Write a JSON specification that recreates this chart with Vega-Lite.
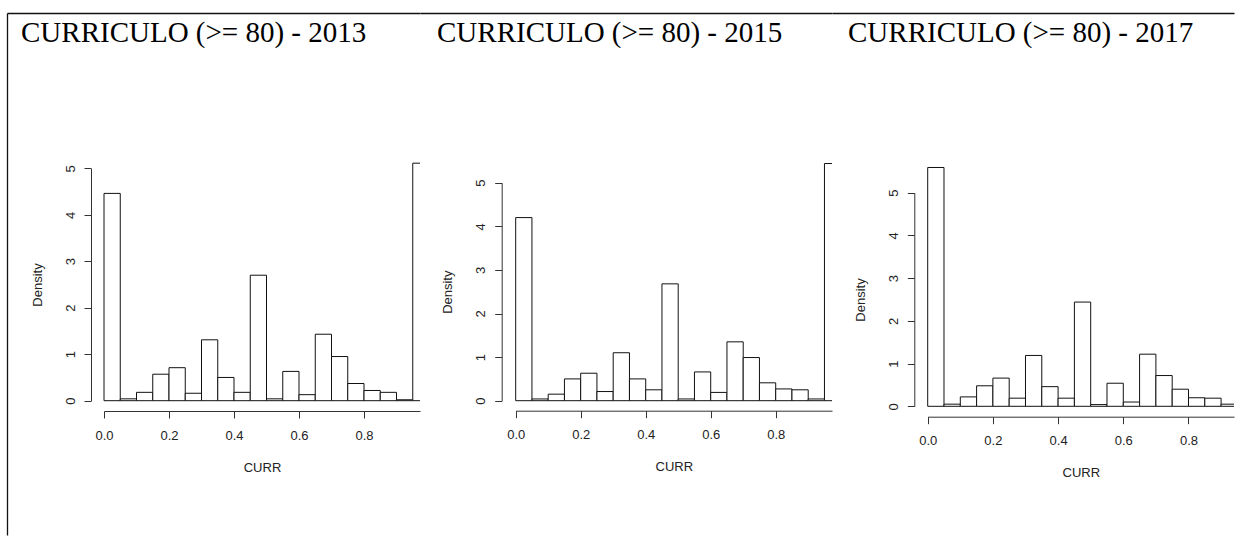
{
  "$schema": "https://vega.github.io/schema/vega-lite/v6.json",
  "background": "white",
  "padding": {"left": 7, "top": 13, "right": 1, "bottom": 1},
  "autosize": {"type": "pad"},
  "bounds": "flush",
  "spacing": 0,
  "config": {
    "view": {"stroke": null},
    "axis": {
      "labelFont": "Liberation Sans",
      "labelFontSize": 13,
      "labelColor": "#222",
      "titleFont": "Liberation Sans",
      "titleFontSize": 13,
      "titleFontWeight": "normal",
      "titleColor": "#222",
      "domainColor": "#333",
      "tickColor": "#333",
      "tickSize": 7,
      "grid": false,
      "labelFlush": false,
      "labelOverlap": false
    },
    "axisX": {"labelPadding": 11, "titlePadding": 19},
    "axisY": {"labelAngle": 270, "labelAlign": "center", "labelBaseline": "alphabetic", "labelPadding": 10, "titlePadding": 20},
    "title": {"anchor": "start", "frame": "group", "offset": 0, "baseline": "alphabetic", "font": "Liberation Serif", "fontSize": 29, "fontWeight": "normal", "color": "black", "dy": 39}
  },
  "datasets": {
    "hist": [
      {"year": 2013, "bin_start": 0.00, "bin_end": 0.05, "density": 4.46},
      {"year": 2013, "bin_start": 0.05, "bin_end": 0.10, "density": 0.04},
      {"year": 2013, "bin_start": 0.10, "bin_end": 0.15, "density": 0.18},
      {"year": 2013, "bin_start": 0.15, "bin_end": 0.20, "density": 0.57},
      {"year": 2013, "bin_start": 0.20, "bin_end": 0.25, "density": 0.71},
      {"year": 2013, "bin_start": 0.25, "bin_end": 0.30, "density": 0.16},
      {"year": 2013, "bin_start": 0.30, "bin_end": 0.35, "density": 1.31},
      {"year": 2013, "bin_start": 0.35, "bin_end": 0.40, "density": 0.50},
      {"year": 2013, "bin_start": 0.40, "bin_end": 0.45, "density": 0.18},
      {"year": 2013, "bin_start": 0.45, "bin_end": 0.50, "density": 2.70},
      {"year": 2013, "bin_start": 0.50, "bin_end": 0.55, "density": 0.04},
      {"year": 2013, "bin_start": 0.55, "bin_end": 0.60, "density": 0.63},
      {"year": 2013, "bin_start": 0.60, "bin_end": 0.65, "density": 0.13},
      {"year": 2013, "bin_start": 0.65, "bin_end": 0.70, "density": 1.43},
      {"year": 2013, "bin_start": 0.70, "bin_end": 0.75, "density": 0.95},
      {"year": 2013, "bin_start": 0.75, "bin_end": 0.80, "density": 0.37},
      {"year": 2013, "bin_start": 0.80, "bin_end": 0.85, "density": 0.22},
      {"year": 2013, "bin_start": 0.85, "bin_end": 0.90, "density": 0.18},
      {"year": 2013, "bin_start": 0.90, "bin_end": 0.95, "density": 0.02},
      {"year": 2013, "bin_start": 0.95, "bin_end": 1.00, "density": 5.11},
      {"year": 2015, "bin_start": 0.00, "bin_end": 0.05, "density": 4.20},
      {"year": 2015, "bin_start": 0.05, "bin_end": 0.10, "density": 0.04},
      {"year": 2015, "bin_start": 0.10, "bin_end": 0.15, "density": 0.15},
      {"year": 2015, "bin_start": 0.15, "bin_end": 0.20, "density": 0.50},
      {"year": 2015, "bin_start": 0.20, "bin_end": 0.25, "density": 0.63},
      {"year": 2015, "bin_start": 0.25, "bin_end": 0.30, "density": 0.21},
      {"year": 2015, "bin_start": 0.30, "bin_end": 0.35, "density": 1.10},
      {"year": 2015, "bin_start": 0.35, "bin_end": 0.40, "density": 0.50},
      {"year": 2015, "bin_start": 0.40, "bin_end": 0.45, "density": 0.25},
      {"year": 2015, "bin_start": 0.45, "bin_end": 0.50, "density": 2.68},
      {"year": 2015, "bin_start": 0.50, "bin_end": 0.55, "density": 0.04},
      {"year": 2015, "bin_start": 0.55, "bin_end": 0.60, "density": 0.66},
      {"year": 2015, "bin_start": 0.60, "bin_end": 0.65, "density": 0.19},
      {"year": 2015, "bin_start": 0.65, "bin_end": 0.70, "density": 1.35},
      {"year": 2015, "bin_start": 0.70, "bin_end": 0.75, "density": 0.99},
      {"year": 2015, "bin_start": 0.75, "bin_end": 0.80, "density": 0.41},
      {"year": 2015, "bin_start": 0.80, "bin_end": 0.85, "density": 0.27},
      {"year": 2015, "bin_start": 0.85, "bin_end": 0.90, "density": 0.25},
      {"year": 2015, "bin_start": 0.90, "bin_end": 0.95, "density": 0.04},
      {"year": 2015, "bin_start": 0.95, "bin_end": 1.00, "density": 5.44},
      {"year": 2017, "bin_start": 0.00, "bin_end": 0.05, "density": 5.59},
      {"year": 2017, "bin_start": 0.05, "bin_end": 0.10, "density": 0.05},
      {"year": 2017, "bin_start": 0.10, "bin_end": 0.15, "density": 0.22},
      {"year": 2017, "bin_start": 0.15, "bin_end": 0.20, "density": 0.48},
      {"year": 2017, "bin_start": 0.20, "bin_end": 0.25, "density": 0.66},
      {"year": 2017, "bin_start": 0.25, "bin_end": 0.30, "density": 0.19},
      {"year": 2017, "bin_start": 0.30, "bin_end": 0.35, "density": 1.19},
      {"year": 2017, "bin_start": 0.35, "bin_end": 0.40, "density": 0.46},
      {"year": 2017, "bin_start": 0.40, "bin_end": 0.45, "density": 0.19},
      {"year": 2017, "bin_start": 0.45, "bin_end": 0.50, "density": 2.44},
      {"year": 2017, "bin_start": 0.50, "bin_end": 0.55, "density": 0.04},
      {"year": 2017, "bin_start": 0.55, "bin_end": 0.60, "density": 0.54},
      {"year": 2017, "bin_start": 0.60, "bin_end": 0.65, "density": 0.10},
      {"year": 2017, "bin_start": 0.65, "bin_end": 0.70, "density": 1.22},
      {"year": 2017, "bin_start": 0.70, "bin_end": 0.75, "density": 0.72},
      {"year": 2017, "bin_start": 0.75, "bin_end": 0.80, "density": 0.40},
      {"year": 2017, "bin_start": 0.80, "bin_end": 0.85, "density": 0.20},
      {"year": 2017, "bin_start": 0.85, "bin_end": 0.90, "density": 0.19},
      {"year": 2017, "bin_start": 0.90, "bin_end": 0.95, "density": 0.05}
    ]
  },
  "hconcat": [
    {
      "width": 413,
      "height": 522,
      "title": {"text": "CURRICULO (>= 80) - 2013", "dx": 14},
      "data": {"name": "hist"},
      "transform": [{"filter": "datum.year == 2013"}],
      "layer": [
        {
          "mark": {"type": "rect", "fill": "white", "stroke": "#111", "strokeWidth": 1, "clip": true},
          "encoding": {
            "x": {"field": "bin_start", "type": "quantitative",
                  "scale": {"domain": [0, 0.9723], "range": [97, 413], "nice": false, "zero": false},
                  "axis": {"values": [0, 0.2, 0.4, 0.6, 0.8], "format": ".1f", "title": "CURR", "offset": -124}},
            "x2": {"field": "bin_end"},
            "y": {"field": "density", "type": "quantitative",
                  "scale": {"domain": [0, 5], "range": [387.7, 155.3], "nice": false},
                  "axis": {"values": [0, 1, 2, 3, 4, 5], "format": "d", "title": "Density", "offset": -84}},
            "y2": {"datum": 0}
          }
        },
        {
          "mark": {"type": "rect", "opacity": 0, "clip": true},
          "encoding": {
            "x": {"field": "bin_start", "type": "quantitative", "scale": {"domain": [0, 1], "nice": false},
                  "axis": {"orient": "top", "domain": true, "ticks": false, "labels": false, "title": null, "domainColor": "#111", "domainWidth": 1.3, "offset": 0}},
            "x2": {"field": "bin_end"},
            "y": {"field": "density", "type": "quantitative", "scale": {"domain": [0, 6], "nice": false},
                  "axis": {"orient": "left", "domain": true, "ticks": false, "labels": false, "title": null, "domainColor": "#111", "domainWidth": 1.3, "offset": 0}},
            "y2": {"datum": 0}
          }
        }
      ],
      "resolve": {"scale": {"x": "independent", "y": "independent"}, "axis": {"x": "independent", "y": "independent"}}
    },
    {
      "width": 412,
      "height": 522,
      "title": {"text": "CURRICULO (>= 80) - 2015", "dx": 17},
      "data": {"name": "hist"},
      "transform": [{"filter": "datum.year == 2015"}],
      "layer": [
        {
          "mark": {"type": "rect", "fill": "white", "stroke": "#111", "strokeWidth": 1, "clip": true},
          "encoding": {
            "x": {"field": "bin_start", "type": "quantitative",
                  "scale": {"domain": [0, 0.9732], "range": [95.7, 412], "nice": false, "zero": false},
                  "axis": {"values": [0, 0.2, 0.4, 0.6, 0.8], "format": ".1f", "title": "CURR", "offset": -124.3}},
            "x2": {"field": "bin_end"},
            "y": {"field": "density", "type": "quantitative",
                  "scale": {"domain": [0, 5], "range": [387.7, 169.7], "nice": false},
                  "axis": {"values": [0, 1, 2, 3, 4, 5], "format": "d", "title": "Density", "offset": -81.7}},
            "y2": {"datum": 0}
          }
        },
        {
          "mark": {"type": "rect", "opacity": 0, "clip": true},
          "encoding": {
            "x": {"field": "bin_start", "type": "quantitative", "scale": {"domain": [0, 1], "nice": false},
                  "axis": {"orient": "top", "domain": true, "ticks": false, "labels": false, "title": null, "domainColor": "#111", "domainWidth": 1.3, "offset": 0}},
            "x2": {"field": "bin_end"},
            "y": {"field": "density", "type": "quantitative", "scale": {"domain": [0, 6], "nice": false}, "axis": null},
            "y2": {"datum": 0}
          }
        }
      ],
      "resolve": {"scale": {"x": "independent", "y": "independent"}, "axis": {"x": "independent", "y": "independent"}}
    },
    {
      "width": 402,
      "height": 522,
      "title": {"text": "CURRICULO (>= 80) - 2017", "dx": 16},
      "data": {"name": "hist"},
      "transform": [{"filter": "datum.year == 2017"}],
      "layer": [
        {
          "mark": {"type": "rect", "fill": "white", "stroke": "#111", "strokeWidth": 1, "clip": true},
          "encoding": {
            "x": {"field": "bin_start", "type": "quantitative",
                  "scale": {"domain": [0, 0.9396], "range": [95.7, 402], "nice": false, "zero": false},
                  "axis": {"values": [0, 0.2, 0.4, 0.6, 0.8], "format": ".1f", "title": "CURR", "offset": -118.3}},
            "x2": {"field": "bin_end"},
            "y": {"field": "density", "type": "quantitative",
                  "scale": {"domain": [0, 5], "range": [393.3, 179.7], "nice": false},
                  "axis": {"values": [0, 1, 2, 3, 4, 5], "format": "d", "title": "Density", "offset": -82.3}},
            "y2": {"datum": 0}
          }
        },
        {
          "mark": {"type": "rect", "opacity": 0, "clip": true},
          "encoding": {
            "x": {"field": "bin_start", "type": "quantitative", "scale": {"domain": [0, 1], "nice": false},
                  "axis": {"orient": "top", "domain": true, "ticks": false, "labels": false, "title": null, "domainColor": "#111", "domainWidth": 1.3, "offset": 0}},
            "x2": {"field": "bin_end"},
            "y": {"field": "density", "type": "quantitative", "scale": {"domain": [0, 6], "nice": false}, "axis": null},
            "y2": {"datum": 0}
          }
        }
      ],
      "resolve": {"scale": {"x": "independent", "y": "independent"}, "axis": {"x": "independent", "y": "independent"}}
    }
  ]
}
